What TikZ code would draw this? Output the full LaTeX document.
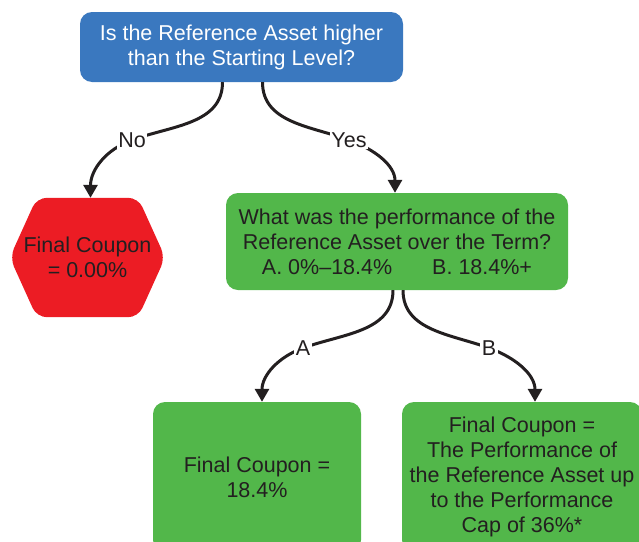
\documentclass[tikz,border=0pt]{standalone}
\usepackage{fontspec}
\setmainfont{Liberation Sans}
\usetikzlibrary{arrows.meta,backgrounds}
\definecolor{askblue}{HTML}{3A78BF}
\definecolor{stopred}{HTML}{EC1C24}
\definecolor{gogreen}{HTML}{52B74A}
\definecolor{ink}{HTML}{231F20}
\begin{document}
\begin{tikzpicture}[x=1pt,y=1pt,
        every node/.style={font=\fontsize{21.5}{25}\selectfont},
        box node/.style={rectangle,rounded corners=12pt,align=center,inner sep=0pt,text=ink},
        ask node/.style={box node,fill=askblue,text=white},
        go node/.style={box node,fill=gogreen},
        stop node/.style={rectangle,align=center,inner sep=0pt,text=ink},
        edge label/.style={fill=white,inner sep=1.5pt,text=ink},
        arc/.style={line width=3pt,draw=ink,-{Triangle[width=14pt,length=13pt]}}]

        \useasboundingbox (0,0) rectangle (639,-541);

        % Define vertices
        \node[ask node,minimum width=323pt,minimum height=70pt] (start) at (241.5,-47)
            {Is the Reference Asset higher\\than the Starting Level?};
        \node[stop node,minimum width=155pt,minimum height=119pt] (zero) at (87.5,-257.5)
            {Final Coupon\\= 0.00\%};
        \node[go node,minimum width=342pt,minimum height=97pt] (perf) at (397,-241.5)
            {What was the performance of the\\Reference Asset over the Term?\\A. 0\%–18.4\%\hspace{40pt}B. 18.4\%+};
        \node[go node,minimum width=208pt,minimum height=150pt] (capA) at (257,-477)
            {Final Coupon =\\18.4\%};
        \node[go node,minimum width=240pt,minimum height=150pt] (capB) at (522,-477)
            {Final Coupon =\\The Performance of\\the Reference Asset up\\to the Performance\\Cap of 36\%*};

        % Hexagon behind the stop node
        \begin{scope}[on background layer]
            \fill[stopred,rounded corners=10pt] (zero.west) -- ([xshift=27pt]zero.north west)
                -- ([xshift=-27pt]zero.north east) -- (zero.east)
                -- ([xshift=-27pt]zero.south east) -- ([xshift=27pt]zero.south west) -- cycle;
        \end{scope}

        % Label points
        \coordinate (noAt) at (132,-140);
        \coordinate (yesAt) at (349,-140);
        \coordinate (aAt) at (303,-348);
        \coordinate (bAt) at (489,-348);

        % Define edges
        \draw[arc] ([xshift=-19pt]start.south) to[out=-90,in=20] (noAt) node[edge label] (no) {No}
            to[out=200,in=90] ([xshift=3pt]zero.north);
        \draw[arc] ([xshift=21pt]start.south) to[out=-90,in=160] (yesAt) node[edge label] (yes) {Yes}
            to[out=-20,in=90] ([xshift=-2pt]perf.north);
        \draw[arc] ([xshift=-4pt]perf.south) to[out=-90,in=20] (aAt) node[edge label] (a) {A}
            to[out=200,in=90] ([xshift=5pt]capA.north);
        \draw[arc] ([xshift=6pt]perf.south) to[out=-90,in=160] (bAt) node[edge label] (b) {B}
            to[out=-20,in=90] ([xshift=13pt]capB.north);
\end{tikzpicture}
\end{document}
